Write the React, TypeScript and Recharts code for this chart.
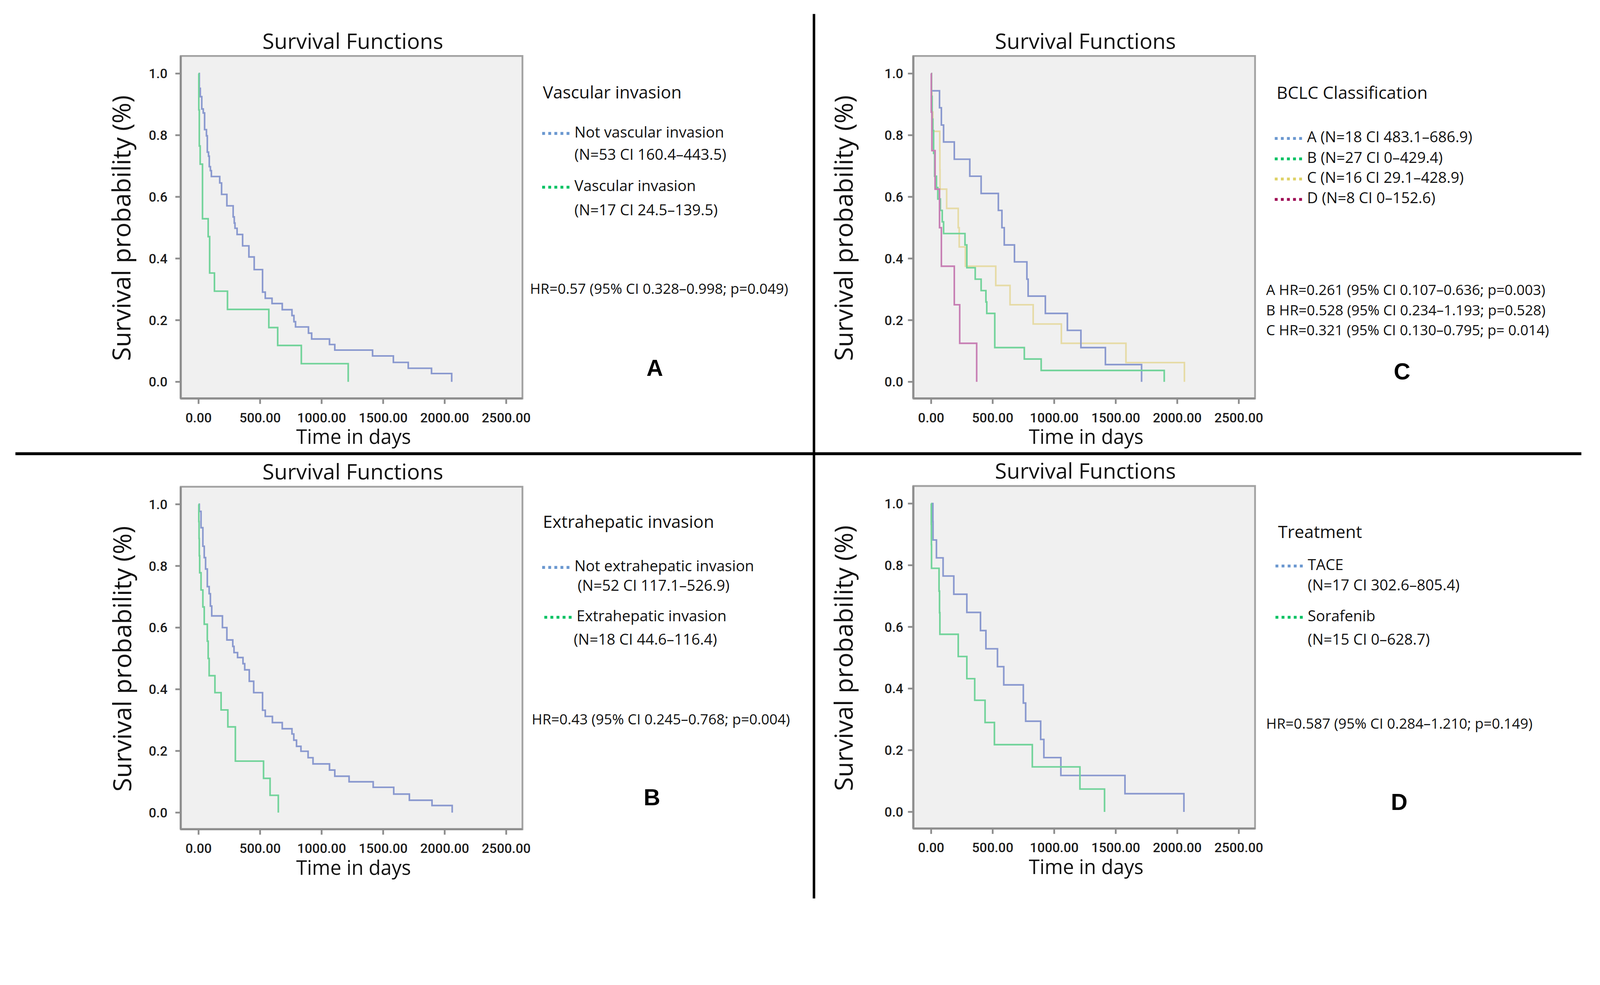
import React from "react";
import { LineChart, Line, XAxis, YAxis, CartesianGrid, ReferenceArea } from "recharts";

type Pt = [number, number];

const timeTicks = [0, 500, 1000, 1500, 2000, 2500];
const probTicks = [0, 0.2, 0.4, 0.6, 0.8, 1.0];

// A: vascular invasion
const notVascular: Pt[] = [
  [0, 1], [6, 0.952], [14, 0.925], [26, 0.885], [38, 0.872], [49, 0.818], [64, 0.798], [71, 0.745],
  [81, 0.732], [87, 0.698], [96, 0.685], [104, 0.666], [172, 0.645], [187, 0.608], [230, 0.571],
  [281, 0.535], [290, 0.515], [296, 0.498], [313, 0.478], [358, 0.441], [409, 0.405], [452, 0.364],
  [520, 0.291], [542, 0.271], [597, 0.254], [680, 0.234], [759, 0.215], [775, 0.195], [788, 0.178],
  [893, 0.158], [919, 0.139], [1064, 0.121], [1107, 0.103], [1414, 0.084], [1583, 0.063],
  [1704, 0.044], [1893, 0.027], [2057, 0],
];
const vascular: Pt[] = [
  [0, 1], [2, 0.882], [6, 0.765], [13, 0.706], [32, 0.529], [78, 0.471], [90, 0.353], [129, 0.294],
  [235, 0.235], [571, 0.176], [643, 0.118], [835, 0.059], [1216, 0],
];

// B: extrahepatic invasion
const notExtrahepatic: Pt[] = [
  [0, 1], [6, 0.977], [20, 0.924], [35, 0.864], [46, 0.827], [57, 0.79], [71, 0.733], [86, 0.71],
  [96, 0.67], [107, 0.638], [194, 0.6], [230, 0.56], [278, 0.539], [288, 0.519], [317, 0.503],
  [361, 0.483], [375, 0.463], [412, 0.426], [448, 0.389], [520, 0.332], [542, 0.312], [600, 0.292],
  [680, 0.272], [759, 0.255], [774, 0.235], [796, 0.215], [832, 0.199], [890, 0.178], [930, 0.158],
  [1064, 0.138], [1107, 0.118], [1223, 0.1], [1419, 0.082], [1586, 0.06], [1713, 0.04],
  [1897, 0.023], [2061, 0],
];
const extrahepatic: Pt[] = [
  [0, 1], [2, 0.944], [4, 0.889], [6, 0.833], [9, 0.778], [20, 0.722], [35, 0.667], [46, 0.611],
  [71, 0.556], [78, 0.5], [86, 0.444], [133, 0.389], [183, 0.333], [238, 0.278], [299, 0.167],
  [528, 0.111], [581, 0.056], [648, 0],
];

// C: BCLC classification
const bclcA: Pt[] = [
  [0, 1], [1, 0.944], [68, 0.889], [83, 0.833], [101, 0.778], [188, 0.722], [314, 0.667],
  [406, 0.611], [546, 0.556], [575, 0.5], [594, 0.444], [677, 0.389], [778, 0.333], [788, 0.278],
  [928, 0.222], [1107, 0.167], [1217, 0.111], [1416, 0.056], [1710, 0],
];
const bclcB: Pt[] = [
  [0, 1], [3, 0.926], [8, 0.852], [14, 0.815], [20, 0.741], [28, 0.667], [43, 0.63], [54, 0.593],
  [75, 0.556], [90, 0.519], [101, 0.481], [275, 0.444], [290, 0.37], [358, 0.333], [406, 0.296],
  [445, 0.259], [452, 0.222], [517, 0.111], [757, 0.074], [894, 0.037], [1894, 0],
];
const bclcC: Pt[] = [
  [0, 1], [3, 0.9375], [6, 0.875], [14, 0.8125], [70, 0.75], [71, 0.6875], [72, 0.625],
  [126, 0.5625], [220, 0.5], [228, 0.4375], [278, 0.375], [525, 0.3125], [641, 0.25],
  [829, 0.1875], [1058, 0.125], [1583, 0.0625], [2058, 0],
];
const bclcD: Pt[] = [
  [0, 1], [1, 0.875], [6, 0.75], [32, 0.625], [68, 0.5], [83, 0.375], [188, 0.25], [232, 0.125], [370, 0],
];

// D: treatment
const tace: Pt[] = [
  [0, 1], [14, 0.941], [15, 0.882], [43, 0.824], [97, 0.765], [184, 0.706], [290, 0.647],
  [401, 0.588], [445, 0.529], [539, 0.471], [590, 0.412], [749, 0.353], [768, 0.294], [890, 0.235],
  [916, 0.176], [1054, 0.118], [1575, 0.059], [2054, 0],
];
const sorafenib: Pt[] = [
  [0, 1], [1, 0.933], [2, 0.867], [3, 0.79], [64, 0.716], [68, 0.646], [71, 0.576], [220, 0.504],
  [290, 0.432], [354, 0.362], [438, 0.29], [514, 0.218], [822, 0.146], [1209, 0.074], [1409, 0],
];

const CURVE_BLUE = "#8a99cf";
const CURVE_GREEN = "#72d39a";
const CURVE_YELLOW = "#e6dba6";
const CURVE_PINK = "#c77fb4";
const DOT_BLUE = "#6b98d0";
const DOT_GREEN = "#00c262";
const DOT_YELLOW = "#ded165";
const DOT_PINK = "#9e0a55";

const SANS = "'Open Sans', 'Noto Sans', sans-serif";
const TICK_FONT = "Roboto, 'Open Sans', sans-serif";

const PAGE_W = 4462;
const PAGE_H = 2521;
const PW = 953;
const PH = 955;
const YW = 320;
const MT = 20;
const MR = 90;
const XH = 140;
const X_DOMAIN: [number, number] = [-145, 2632];
const Y_DOMAIN: [number, number] = [-0.054, 1.057];

type Series = { key: string; points: Pt[]; color: string };

function SurvivalPlot({ x, y, series, tickGap }: { x: number; y: number; series: Series[]; tickGap: number }) {
  return (
    <div style={{ position: "absolute", left: x - YW, top: y - MT }}>
      <LineChart width={YW + PW + MR} height={MT + PH + XH} margin={{ top: MT, right: MR, bottom: 0, left: 0 }}>
        <CartesianGrid horizontal={false} vertical={false} fill="#f0f0f0" />
        <XAxis
          type="number"
          dataKey="t"
          domain={X_DOMAIN}
          ticks={timeTicks}
          interval={0}
          allowDataOverflow
          height={XH}
          tickFormatter={(v: number) => v.toFixed(2)}
          tick={{ fontSize: 37, fill: "#1c1c1c", fontFamily: TICK_FONT, fontWeight: 500 }}
          tickSize={15}
          tickMargin={25}
          axisLine={{ stroke: "#8e8e8e", strokeWidth: 6 }}
          tickLine={{ stroke: "#8e8e8e", strokeWidth: 5 }}
        />
        <YAxis
          type="number"
          domain={Y_DOMAIN}
          ticks={probTicks}
          interval={0}
          allowDataOverflow
          width={YW}
          tickFormatter={(v: number) => v.toFixed(1)}
          tick={{ fontSize: 37, fill: "#1c1c1c", fontFamily: TICK_FONT, fontWeight: 500 }}
          tickSize={15}
          tickMargin={tickGap}
          axisLine={{ stroke: "#8e8e8e", strokeWidth: 6 }}
          tickLine={{ stroke: "#8e8e8e", strokeWidth: 5 }}
        />
        <ReferenceArea
          x1={X_DOMAIN[0]}
          x2={X_DOMAIN[1]}
          y1={Y_DOMAIN[0]}
          y2={Y_DOMAIN[1]}
          fill="none"
          stroke="#a2a2a2"
          strokeWidth={5}
          ifOverflow="visible"
        />
        {series.map((s) => (
          <Line
            key={s.key}
            data={s.points.map(([t, v]) => ({ t, s: v }))}
            dataKey="s"
            type="stepAfter"
            stroke={s.color}
            strokeWidth={4.5}
            dot={false}
            activeDot={false}
            isAnimationActive={false}
          />
        ))}
      </LineChart>
    </div>
  );
}

type Note = { text: string; x: number; y: number; dot?: string };

function Notes({ x, y, yLabelX, title, notes, hr, hrX, hrY, letter, letterX, letterY }: {
  x: number; y: number; yLabelX: number; title: Note; notes: Note[];
  hr: string[]; hrX: number; hrY: number; letter: string; letterX: number; letterY: number;
}) {
  return (
    <g transform={`translate(${x},${y})`}>
      <text x={480} y={-20} textAnchor="middle" fontFamily={SANS} fontSize={60} fill="#111">Survival Functions</text>
      <text x={482} y={1082} textAnchor="middle" fontFamily={SANS} fontSize={55} fill="#111">Time in days</text>
      <text
        transform={`translate(${yLabelX},${480}) rotate(-90)`}
        textAnchor="middle"
        fontFamily={SANS}
        fontSize={70}
        fill="#111"
      >
        Survival probability (%)
      </text>
      <text x={title.x} y={title.y} fontFamily={SANS} fontSize={48} fill="#111">{title.text}</text>
      {notes.map((n, i) => (
        <g key={i}>
          {n.dot && (
            <line x1={n.x - 90} x2={n.x - 12} y1={n.y - 11} y2={n.y - 11} stroke={n.dot} strokeWidth={8} strokeDasharray="8 9" />
          )}
          <text x={n.x} y={n.y} fontFamily={SANS} fontSize={42} fill="#111">{n.text}</text>
        </g>
      ))}
      {hr.map((h, i) => (
        <text key={i} x={hrX} y={hrY + i * 56} fontFamily={SANS} fontSize={40} fill="#111">{h}</text>
      ))}
      <text x={letterX} y={letterY} textAnchor="middle" fontFamily="'Liberation Sans', Arial, sans-serif" fontWeight="bold" fontSize={64} fill="#000">
        {letter}
      </text>
    </g>
  );
}

export default function App() {
  const vw = typeof window !== "undefined" && window.innerWidth > 0 ? window.innerWidth : PAGE_W;
  const scale = vw / PAGE_W;
  const A = { x: 504, y: 156 };
  const B = { x: 504, y: 1357 };
  const C = { x: 2547, y: 156 };
  const D = { x: 2547, y: 1355 };
  return (
    <div style={{ position: "absolute", left: 0, top: 0, width: PAGE_W * scale, height: PAGE_H * scale, overflow: "hidden", background: "#fff" }}>
      <div style={{ position: "absolute", left: 0, top: 0, width: PAGE_W, height: PAGE_H, background: "#fff", transform: `scale(${scale})`, transformOrigin: "0 0" }}>
        <SurvivalPlot x={A.x} y={A.y} tickGap={22}
          series={[{ key: "nv", points: notVascular, color: CURVE_BLUE }, { key: "v", points: vascular, color: CURVE_GREEN }]} />
        <SurvivalPlot x={B.x} y={B.y} tickGap={22}
          series={[{ key: "ne", points: notExtrahepatic, color: CURVE_BLUE }, { key: "e", points: extrahepatic, color: CURVE_GREEN }]} />
        <SurvivalPlot x={C.x} y={C.y} tickGap={13}
          series={[
            { key: "c", points: bclcC, color: CURVE_YELLOW },
            { key: "a", points: bclcA, color: CURVE_BLUE },
            { key: "b", points: bclcB, color: CURVE_GREEN },
            { key: "d", points: bclcD, color: CURVE_PINK },
          ]} />
        <SurvivalPlot x={D.x} y={D.y} tickGap={13}
          series={[{ key: "t", points: tace, color: CURVE_BLUE }, { key: "s", points: sorafenib, color: CURVE_GREEN }]} />

        <svg width={PAGE_W} height={PAGE_H} style={{ position: "absolute", left: 0, top: 0, pointerEvents: "none" }}>
          <line x1={2270} x2={2270} y1={39} y2={2505} stroke="#000" strokeWidth={7} />
          <line x1={43} x2={4410} y1={1265} y2={1265} stroke="#000" strokeWidth={8} />

          <Notes x={A.x} y={A.y} yLabelX={-140}
            title={{ text: "Vascular invasion", x: 1010, y: 119 }}
            notes={[
              { text: "Not vascular invasion", x: 1098, y: 227, dot: DOT_BLUE },
              { text: "(N=53 CI 160.4\u2013443.5)", x: 1098, y: 290 },
              { text: "Vascular invasion", x: 1098, y: 377, dot: DOT_GREEN },
              { text: "(N=17 CI 24.5\u2013139.5)", x: 1098, y: 444 },
            ]}
            hr={["HR=0.57 (95% CI 0.328\u20130.998; p=0.049)"]} hrX={974} hrY={663}
            letter="A" letterX={1322} letterY={892} />

          <Notes x={B.x} y={B.y} yLabelX={-138}
            title={{ text: "Extrahepatic invasion", x: 1010, y: 115 }}
            notes={[
              { text: "Not extrahepatic invasion", x: 1098, y: 236, dot: DOT_BLUE },
              { text: "(N=52 CI 117.1\u2013526.9)", x: 1107, y: 290 },
              { text: "Extrahepatic invasion", x: 1104, y: 375, dot: DOT_GREEN },
              { text: "(N=18 CI 44.6\u2013116.4)", x: 1096, y: 440 },
            ]}
            hr={["HR=0.43 (95% CI 0.245\u20130.768; p=0.004)"]} hrX={979} hrY={663}
            letter="B" letterX={1314} letterY={888} />

          <Notes x={C.x} y={C.y} yLabelX={-169}
            title={{ text: "BCLC Classification", x: 1013, y: 120 }}
            notes={[
              { text: "A (N=18 CI 483.1\u2013686.9)", x: 1098, y: 241, dot: DOT_BLUE },
              { text: "B (N=27 CI 0\u2013429.4)", x: 1098, y: 298, dot: DOT_GREEN },
              { text: "C (N=16 CI 29.1\u2013428.9)", x: 1098, y: 354, dot: DOT_YELLOW },
              { text: "D (N=8 CI 0\u2013152.6)", x: 1098, y: 411, dot: DOT_PINK },
            ]}
            hr={[
              "A HR=0.261 (95% CI 0.107\u20130.636; p=0.003)",
              "B HR=0.528 (95% CI 0.234\u20131.193; p=0.528)",
              "C HR=0.321 (95% CI 0.130\u20130.795; p= 0.014)",
            ]} hrX={984} hrY={667}
            letter="C" letterX={1363} letterY={902} />

          <Notes x={D.x} y={D.y} yLabelX={-169}
            title={{ text: "Treatment", x: 1017, y: 145 }}
            notes={[
              { text: "TACE", x: 1100, y: 234, dot: DOT_BLUE },
              { text: "(N=17 CI 302.6\u2013805.4)", x: 1100, y: 291 },
              { text: "Sorafenib", x: 1100, y: 377, dot: DOT_GREEN },
              { text: "(N=15 CI 0\u2013628.7)", x: 1100, y: 442 },
            ]}
            hr={["HR=0.587 (95% CI 0.284\u20131.210; p=0.149)"]} hrX={984} hrY={677}
            letter="D" letterX={1355} letterY={903} />
        </svg>
      </div>
    </div>
  );
}
